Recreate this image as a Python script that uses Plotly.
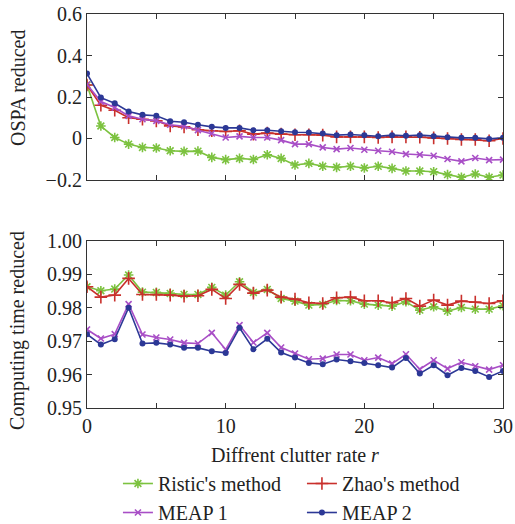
import plotly.graph_objects as go
from plotly.subplots import make_subplots

r = list(range(31))

ospa_ristic = [0.258, 0.060, 0.005, -0.027, -0.043, -0.046, -0.059, -0.062, -0.061, -0.091, -0.102,
               -0.096, -0.101, -0.078, -0.096, -0.128, -0.120, -0.134, -0.139, -0.134, -0.142,
               -0.134, -0.144, -0.157, -0.157, -0.160, -0.174, -0.187, -0.171, -0.187, -0.176]
ospa_zhao = [0.258, 0.160, 0.136, 0.100, 0.093, 0.085, 0.061, 0.056, 0.042, 0.037, 0.034,
             0.037, 0.021, 0.026, 0.021, 0.018, 0.018, 0.016, 0.008, 0.008, 0.008,
             0.005, 0.008, 0.008, 0.006, 0.003, 0.000, -0.005, -0.005, -0.011, 0.000]
ospa_meap1 = [0.260, 0.178, 0.149, 0.109, 0.093, 0.085, 0.066, 0.059, 0.040, 0.024, 0.005,
              0.010, 0.005, 0.005, -0.008, -0.027, -0.027, -0.043, -0.051, -0.046, -0.054,
              -0.059, -0.064, -0.075, -0.078, -0.083, -0.099, -0.110, -0.094, -0.104, -0.102]
ospa_meap2 = [0.313, 0.197, 0.170, 0.130, 0.114, 0.110, 0.083, 0.078, 0.066, 0.056, 0.051,
              0.051, 0.040, 0.040, 0.035, 0.030, 0.029, 0.024, 0.016, 0.019, 0.016,
              0.011, 0.016, 0.013, 0.016, 0.011, 0.006, 0.003, 0.003, -0.002, 0.003]

time_ristic = [0.9863, 0.9851, 0.9856, 0.9898, 0.9847, 0.9846, 0.9843, 0.9840, 0.9840, 0.9861, 0.9838,
               0.9878, 0.9846, 0.9855, 0.9828, 0.9820, 0.9808, 0.9810, 0.9822, 0.9821, 0.9811,
               0.9808, 0.9805, 0.9818, 0.9793, 0.9803, 0.9790, 0.9801, 0.9796, 0.9796, 0.9806]
time_zhao = [0.9863, 0.9832, 0.9838, 0.9888, 0.9840, 0.9840, 0.9838, 0.9835, 0.9836, 0.9855, 0.9828,
             0.9870, 0.9844, 0.9853, 0.9832, 0.9826, 0.9815, 0.9813, 0.9830, 0.9832, 0.9821,
             0.9821, 0.9815, 0.9828, 0.9805, 0.9823, 0.9808, 0.9820, 0.9817, 0.9813, 0.9821]
time_meap1 = [0.9735, 0.9708, 0.9721, 0.9811, 0.9720, 0.9711, 0.9705, 0.9695, 0.9693, 0.9725, 0.9675,
              0.9748, 0.9696, 0.9725, 0.9681, 0.9663, 0.9646, 0.9648, 0.9660, 0.9660, 0.9643,
              0.9651, 0.9633, 0.9661, 0.9616, 0.9643, 0.9618, 0.9637, 0.9625, 0.9615, 0.9628]
time_meap2 = [0.9721, 0.9690, 0.9706, 0.9800, 0.9693, 0.9695, 0.9690, 0.9680, 0.9680, 0.9670, 0.9665,
              0.9740, 0.9676, 0.9707, 0.9666, 0.9651, 0.9635, 0.9631, 0.9645, 0.9640, 0.9635,
              0.9628, 0.9621, 0.9650, 0.9603, 0.9628, 0.9598, 0.9620, 0.9611, 0.9593, 0.9611]

names = ["Ristic's method", "Zhao's method", "MEAP 1", "MEAP 2"]
colors = ["#7cc23f", "#c9302c", "#a84ec6", "#2c3896"]
symbols = ["asterisk-open", "cross-thin-open", "x-thin-open", "circle"]
sizes = [8, 9, 6, 6]

ospa = [ospa_ristic, ospa_zhao, ospa_meap1, ospa_meap2]
times = [time_ristic, time_zhao, time_meap1, time_meap2]

fig = make_subplots(rows=2, cols=1, vertical_spacing=0.0)

for k in range(4):
    mk = dict(symbol=symbols[k], size=sizes[k], color=colors[k],
              line=dict(color=colors[k], width=1.6 if k < 3 else 0))
    fig.add_trace(go.Scatter(x=r, y=ospa[k], name=names[k], mode="lines+markers",
                             line=dict(color=colors[k], width=1.6), marker=mk,
                             legendrank=k + 1), row=1, col=1)
    fig.add_trace(go.Scatter(x=r, y=times[k], name=names[k], mode="lines+markers",
                             line=dict(color=colors[k], width=1.6), marker=mk,
                             showlegend=False), row=2, col=1)

font = dict(family="Liberation Serif, Times New Roman, serif", size=20, color="#222")
axis_common = dict(showgrid=False, zeroline=False, showline=True, linecolor="#333", linewidth=1.2,
                   mirror="allticks", ticks="inside", ticklen=5, tickcolor="#333", tickwidth=1.2,
                   tickfont=font, automargin=False)

fig.update_xaxes(range=[0, 30], tickvals=[0, 5, 10, 15, 20, 25, 30], **axis_common)
fig.update_xaxes(showticklabels=False, row=1, col=1)
fig.update_xaxes(ticktext=["0", "", "10", "", "20", "", "30"], row=2, col=1)

fig.update_yaxes(**axis_common)
fig.update_yaxes(range=[-0.2, 0.6], tickvals=[-0.2, 0, 0.2, 0.4, 0.6],
                 ticktext=["\u22120.2", "0", "0.2", "0.4", "0.6"], row=1, col=1)
fig.update_yaxes(range=[0.95, 1.0], tickvals=[0.95, 0.96, 0.97, 0.98, 0.99, 1.0],
                 ticktext=["0.95", "0.96", "0.97", "0.98", "0.99", "1.00"], row=2, col=1)

fig.update_layout(
    width=515, height=524,
    margin=dict(l=87, r=12, t=14, b=116, autoexpand=False),
    paper_bgcolor="white", plot_bgcolor="white",
    font=font,
    yaxis=dict(domain=[0.5787, 1.0]),
    yaxis2=dict(domain=[0.0, 0.4239]),
    showlegend=True,
    legend=dict(orientation="h", xref="container", yref="container",
                x=0.229, y=0.1145, xanchor="left", yanchor="top",
                entrywidth=139, entrywidthmode="pixels", font=font,
                tracegroupgap=0, itemwidth=30, bgcolor="rgba(0,0,0,0)"),
    annotations=[
        dict(text="Diffrent clutter rate <i>r</i>", xref="paper", yref="paper", x=0.5, y=-0.119,
             xanchor="center", yanchor="middle", showarrow=False, font=font),
        dict(text="OSPA reduced", xref="paper", yref="paper", x=-0.166, y=0.812,
             xanchor="center", yanchor="middle", textangle=-90, showarrow=False, font=font),
        dict(text="Computing time reduced", xref="paper", yref="paper", x=-0.166, y=0.198,
             xanchor="center", yanchor="middle", textangle=-90, showarrow=False, font=font),
    ],
)

# remove the default page margin so the figure sits at the window's top-left corner
fig.write_html("out.html", config={"displayModeBar": False},
               post_script="document.body.style.margin='0';document.body.style.overflow='hidden';")
